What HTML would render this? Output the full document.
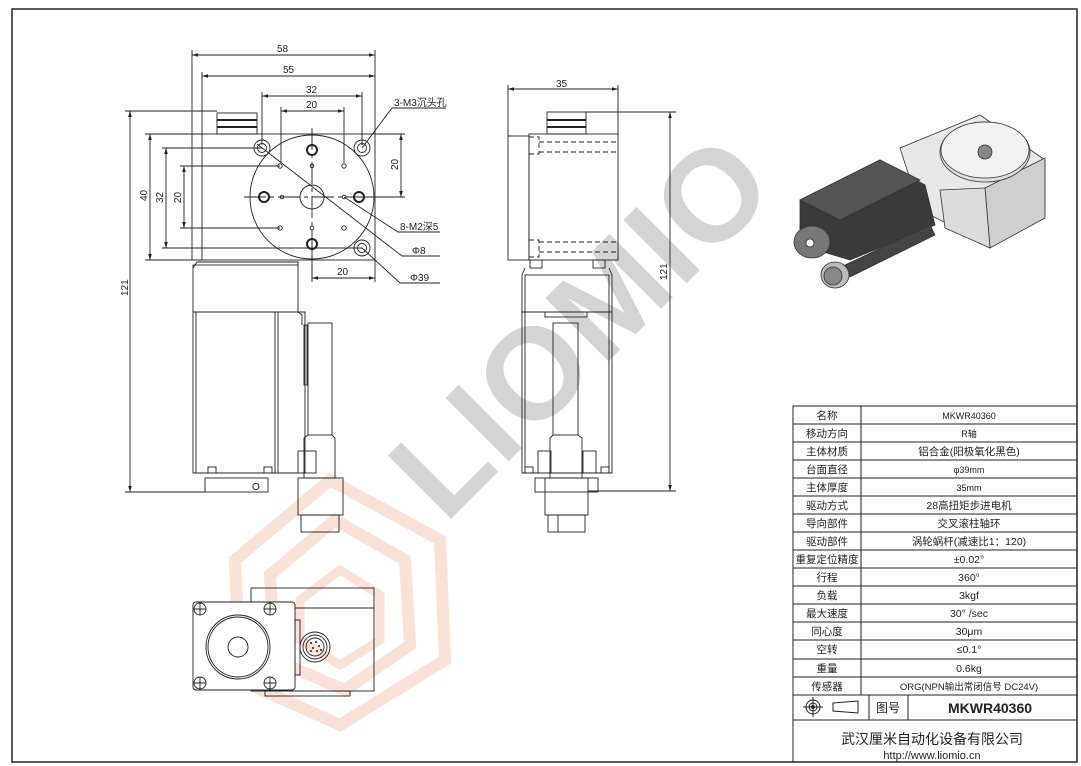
<!DOCTYPE html>
<html><head><meta charset="utf-8"><style>
html,body{margin:0;padding:0;background:#fff;}
svg{display:block;}
text{font-family:"Liberation Sans","Noto Sans CJK SC",sans-serif;}
</style></head><body>
<svg width="1081" height="766" viewBox="0 0 1081 766" xmlns="http://www.w3.org/2000/svg">
<defs>
<marker id="a" viewBox="0 0 10 6" refX="10" refY="3" markerWidth="8" markerHeight="4" orient="auto-start-reverse"><path d="M0,0 L10,3 L0,6z" fill="#222"/></marker>
</defs>
<rect width="1081" height="766" fill="#fff"/>
<g opacity="0.4">
<g fill="none" stroke="#f2b89c" stroke-width="12">
<path d="M235,560 L330,480 L440,540 L445,660 L340,725 L240,680 Z"/>
<path d="M270,575 L335,520 L405,560 L410,645 L345,690 L275,660 Z"/>
</g>
<path d="M300,600 L340,570 L380,595 L380,640 L340,665 L300,640Z" fill="none" stroke="#f2b89c" stroke-width="9"/>
</g>
<text x="0" y="0" transform="translate(445,525) rotate(-45)" font-size="130" font-weight="bold" fill="#d4d4d4" letter-spacing="2">LIOMIO</text>
<rect x="12" y="9" width="1065" height="753" fill="none" stroke="#222" stroke-width="1.5"/>
<g stroke="#222" stroke-width="0.9" fill="none">
<line x1="192" y1="50" x2="192" y2="260"/><line x1="375" y1="50" x2="375" y2="134"/>
<line x1="202" y1="72" x2="202" y2="134"/>
<line x1="192" y1="55" x2="375" y2="55" marker-start="url(#a)" marker-end="url(#a)"/>
<line x1="202" y1="76" x2="375" y2="76" marker-start="url(#a)" marker-end="url(#a)"/>
<line x1="262" y1="92" x2="262" y2="145"/><line x1="362" y1="92" x2="362" y2="145"/>
<line x1="262" y1="96" x2="362" y2="96" marker-start="url(#a)" marker-end="url(#a)"/>
<line x1="281" y1="107" x2="281" y2="163"/><line x1="344" y1="107" x2="344" y2="163"/>
<line x1="281" y1="111" x2="344" y2="111" marker-start="url(#a)" marker-end="url(#a)"/>
<rect x="217" y="113" width="40" height="21"/><line x1="217" y1="120" x2="257" y2="120" stroke-width="2"/><line x1="217" y1="127" x2="257" y2="127" stroke-width="2"/>
<rect x="202" y="134" width="173" height="126"/>
<line x1="192" y1="134" x2="202" y2="134"/>
<circle cx="312" cy="197" r="62"/>
<circle cx="312" cy="197" r="12"/>
<line x1="244" y1="197" x2="380" y2="197" stroke-dasharray="22 4 4 4"/>
<line x1="312" y1="128" x2="312" y2="280" stroke-dasharray="22 4 4 4"/>
<circle cx="262" cy="148" r="8"/><circle cx="262" cy="148" r="4.5"/>
<circle cx="362" cy="148" r="8"/><circle cx="362" cy="148" r="4.5"/>
<circle cx="362" cy="248" r="8"/><circle cx="362" cy="248" r="4.5"/>
<g stroke-width="2"><circle cx="312" cy="150" r="5"/><circle cx="264" cy="197" r="5"/><circle cx="359" cy="197" r="5"/><circle cx="312" cy="244" r="5"/></g>
<circle cx="280" cy="166" r="2.2"/><circle cx="344" cy="166" r="2.2"/><circle cx="280" cy="228" r="2.2"/><circle cx="344" cy="228" r="2.2"/>
<circle cx="312" cy="166" r="1.8"/><circle cx="282" cy="197" r="1.8"/><circle cx="344" cy="197" r="1.8"/><circle cx="312" cy="228" r="1.8"/>
<line x1="145" y1="134" x2="202" y2="134"/><line x1="145" y1="260" x2="202" y2="260"/>
<line x1="150" y1="134" x2="150" y2="260" marker-start="url(#a)" marker-end="url(#a)"/>
<line x1="162" y1="148" x2="262" y2="148"/><line x1="162" y1="248" x2="362" y2="248"/>
<line x1="166" y1="148" x2="166" y2="248" marker-start="url(#a)" marker-end="url(#a)"/>
<line x1="180" y1="166" x2="280" y2="166"/><line x1="180" y1="228" x2="280" y2="228"/>
<line x1="184" y1="166" x2="184" y2="228" marker-start="url(#a)" marker-end="url(#a)"/>
<line x1="125" y1="111" x2="217" y2="111"/><line x1="125" y1="492" x2="205" y2="492"/>
<line x1="130" y1="111" x2="130" y2="492" marker-start="url(#a)" marker-end="url(#a)"/>
<line x1="375" y1="134" x2="405" y2="134"/><line x1="359" y1="197" x2="405" y2="197"/>
<line x1="401" y1="134" x2="401" y2="197" marker-start="url(#a)" marker-end="url(#a)"/>
<line x1="312" y1="250" x2="312" y2="282"/><line x1="375" y1="260" x2="375" y2="282"/>
<line x1="312" y1="278" x2="375" y2="278" marker-start="url(#a)" marker-end="url(#a)"/>
<polyline points="362,148 392,108 446,108"/>
<polyline points="344,197 398,232 440,232"/>
<polyline points="257,144 402,256 440,256"/>
<polyline points="362,248 400,283 440,283"/>
<rect x="193" y="265" width="105" height="47"/>
<path d="M193,268 L197,262 L298,262 L298,265"/>
<rect x="193" y="312" width="85" height="161"/>
<rect x="196" y="312" width="79" height="161"/>
<path d="M278,312 L305,312 L305,473 L278,473"/>
<path d="M298,312 L302,315 L302,325"/>
<rect x="304" y="325" width="3" height="60"/>
<rect x="208" y="467" width="8" height="6"/><rect x="264" y="467" width="8" height="6"/>
<rect x="298" y="451" width="18" height="22"/>
<rect x="308" y="323" width="24" height="112"/>
<path d="M308,435 L304,438 L304,478 L335,478 L335,438 L332,435"/>
<rect x="298" y="478" width="45" height="37"/>
<rect x="301" y="515" width="38" height="17"/>
<rect x="205" y="478" width="63" height="14"/>
<text x="252" y="490" font-size="10" fill="#222" stroke="none">O</text>
<line x1="508" y1="85" x2="508" y2="136"/><line x1="618" y1="85" x2="618" y2="134"/>
<line x1="508" y1="89" x2="618" y2="89" marker-start="url(#a)" marker-end="url(#a)"/>
<rect x="547" y="112" width="39" height="22"/><line x1="547" y1="120" x2="586" y2="120" stroke-width="2"/><line x1="547" y1="127" x2="586" y2="127" stroke-width="2"/>
<line x1="586" y1="112" x2="676" y2="112"/>
<rect x="529" y="134" width="89" height="126"/>
<rect x="508" y="136" width="21" height="124"/>
<g stroke-dasharray="5 3"><line x1="539" y1="142" x2="618" y2="142"/><line x1="539" y1="152" x2="618" y2="152"/><line x1="539" y1="242" x2="618" y2="242"/><line x1="539" y1="252" x2="618" y2="252"/>
<rect x="529" y="137" width="10" height="17"/><rect x="529" y="240" width="10" height="17"/></g>
<line x1="670" y1="112" x2="670" y2="491" marker-start="url(#a)" marker-end="url(#a)"/>
<line x1="588" y1="491" x2="676" y2="491"/>
<rect x="530" y="260" width="12" height="8"/><rect x="593" y="260" width="12" height="8"/>
<path d="M525,268 L522,275 L522,473 L612,473 L612,275 L609,268"/>
<rect x="525" y="275" width="84" height="198"/>
<line x1="522" y1="312" x2="612" y2="312"/>
<rect x="545" y="312" width="42" height="5"/>
<rect x="553" y="323" width="25" height="112"/>
<path d="M553,435 L550,438 L550,478 L582,478 L582,438 L578,435"/>
<rect x="538" y="451" width="13" height="22"/><rect x="583" y="451" width="13" height="22"/>
<rect x="535" y="478" width="63" height="14"/>
<rect x="545" y="478" width="43" height="37"/>
<rect x="548" y="515" width="37" height="17"/><line x1="558" y1="515" x2="558" y2="532"/>
<rect x="525" y="467" width="8" height="6"/><rect x="601" y="467" width="8" height="6"/>
<rect x="251" y="588" width="123" height="103"/>
<rect x="193" y="602" width="102" height="88" rx="3" fill="#fff"/>
<circle cx="238" cy="647" r="32"/><circle cx="238" cy="647" r="30"/><circle cx="238" cy="647" r="10"/>
<g><circle cx="200" cy="609" r="6"/><path d="M194,609h12M200,603v12"/>
<circle cx="270" cy="609" r="6"/><path d="M264,609h12M270,603v12"/>
<circle cx="200" cy="683" r="6"/><path d="M194,683h12M200,677v12"/>
<circle cx="270" cy="683" r="6"/><path d="M264,683h12M270,677v12"/></g>
<rect x="295" y="620" width="5" height="55"/>
<line x1="295" y1="608" x2="374" y2="608"/>
<circle cx="315" cy="647" r="15"/><circle cx="315" cy="647" r="12"/><circle cx="315" cy="647" r="9"/>
<rect x="265" y="691" width="85" height="5"/>
</g>
<g fill="#222"><circle cx="311" cy="643" r="1"/><circle cx="316" cy="642" r="1"/><circle cx="319" cy="646" r="1"/><circle cx="313" cy="648" r="1"/><circle cx="317" cy="651" r="1"/><circle cx="311" cy="651" r="1"/><circle cx="321" cy="650" r="1"/></g>
<g font-size="10" fill="#222">
<text x="277" y="52">58</text><text x="283" y="73">55</text><text x="306" y="93">32</text><text x="306" y="108">20</text>
<text x="337" y="275">20</text>
<text x="556" y="87">35</text>
<text x="394" y="106">3-M3沉头孔</text>
<text x="400" y="230">8-M2深5</text>
<text x="412" y="254">Φ8</text>
<text x="410" y="281">Φ39</text>
<text transform="translate(147,201) rotate(-90)">40</text>
<text transform="translate(163,203) rotate(-90)">32</text>
<text transform="translate(181,203) rotate(-90)">20</text>
<text transform="translate(128,296) rotate(-90)">121</text>
<text transform="translate(398,170) rotate(-90)">20</text>
<text transform="translate(667,280) rotate(-90)">121</text>
</g>
<g stroke="#333" stroke-width="0.8">
<path d="M900,148 L980,115 L1045,160 L1045,215 L990,245 L920,210Z" fill="#e8e8e8"/>
<path d="M985,188 L1045,158 L1045,218 L990,248Z" fill="#cfcfcf"/>
<path d="M940,190 L985,188 L990,248 L945,228Z" fill="#dcdcdc"/>
<ellipse cx="985" cy="152" rx="45" ry="30" fill="#dedede"/>
<ellipse cx="985" cy="150" rx="44" ry="28" fill="#f2f2f2"/>
<circle cx="985" cy="152" r="7" fill="#888"/>
<path d="M800,200 L880,160 L925,185 L935,225 L850,260 L800,245Z" fill="#3a3a3a"/>
<path d="M800,200 L880,160 L920,180 L840,220Z" fill="#555"/>
<ellipse cx="812" cy="242" rx="18" ry="16" fill="#777"/>
<circle cx="810" cy="243" r="4" fill="#fff"/>
<path d="M845,265 L930,225 L935,235 L850,277Z" fill="#444"/>
<ellipse cx="835" cy="275" rx="14" ry="13" fill="#bbb"/>
<ellipse cx="833" cy="276" rx="9" ry="9" fill="#888"/>
</g>
<g stroke="#222" stroke-width="1" fill="none">
<rect x="793" y="406" width="284" height="356"/>
<line x1="861" y1="406" x2="861" y2="695"/>
<line x1="793" y1="695" x2="1077" y2="695"/>
<line x1="793" y1="720" x2="1077" y2="720"/>
<line x1="869" y1="695" x2="869" y2="720"/><line x1="908" y1="695" x2="908" y2="720"/>
<line x1="793" y1="424" x2="1077" y2="424"/><line x1="793" y1="442" x2="1077" y2="442"/><line x1="793" y1="460" x2="1077" y2="460"/><line x1="793" y1="478" x2="1077" y2="478"/><line x1="793" y1="496" x2="1077" y2="496"/><line x1="793" y1="514" x2="1077" y2="514"/><line x1="793" y1="532" x2="1077" y2="532"/><line x1="793" y1="550" x2="1077" y2="550"/><line x1="793" y1="568" x2="1077" y2="568"/><line x1="793" y1="586" x2="1077" y2="586"/><line x1="793" y1="604" x2="1077" y2="604"/><line x1="793" y1="622" x2="1077" y2="622"/><line x1="793" y1="640" x2="1077" y2="640"/><line x1="793" y1="659" x2="1077" y2="659"/><line x1="793" y1="677" x2="1077" y2="677"/>
<circle cx="813" cy="707" r="7"/><circle cx="813" cy="707" r="4"/><circle cx="813" cy="707" r="1.5" fill="#222"/>
<path d="M803,707h20M813,697v20"/>
<path d="M833,703 L858,701 L858,713 L833,711Z"/>
</g>
<g font-size="10.5" fill="#222" text-anchor="middle">
<text x="827" y="419">名称</text><text x="969" y="419" font-size="9">MKWR40360</text>
<text x="827" y="437">移动方向</text><text x="969" y="437" font-size="9">R轴</text>
<text x="827" y="455">主体材质</text><text x="969" y="455">铝合金(阳极氧化黑色)</text>
<text x="827" y="473">台面直径</text><text x="969" y="473" font-size="9">φ39mm</text>
<text x="827" y="491">主体厚度</text><text x="969" y="491" font-size="9">35mm</text>
<text x="827" y="509">驱动方式</text><text x="969" y="509">28高扭矩步进电机</text>
<text x="827" y="527">导向部件</text><text x="969" y="527">交叉滚柱轴环</text>
<text x="827" y="545">驱动部件</text><text x="969" y="545">涡轮蜗杆(减速比1：120)</text>
<text x="827" y="563">重复定位精度</text><text x="969" y="563">±0.02°</text>
<text x="827" y="581">行程</text><text x="969" y="581">360°</text>
<text x="827" y="599">负载</text><text x="969" y="599">3kgf</text>
<text x="827" y="617">最大速度</text><text x="969" y="617">30° /sec</text>
<text x="827" y="635">同心度</text><text x="969" y="635">30μm</text>
<text x="827" y="653">空转</text><text x="969" y="653">≤0.1°</text>
<text x="827" y="672">重量</text><text x="969" y="672">0.6kg</text>
<text x="827" y="690">传感器</text><text x="969" y="690" font-size="9.5">ORG(NPN输出常闭信号 DC24V)</text>
<text x="888" y="712" font-size="12">图号</text>
<text x="990" y="713" font-size="14" font-weight="bold">MKWR40360</text>
<text x="932" y="744" font-size="14">武汉厘米自动化设备有限公司</text>
<text x="932" y="759" font-size="11">http://www.liomio.cn</text>
</g>
</svg>
</body></html>
